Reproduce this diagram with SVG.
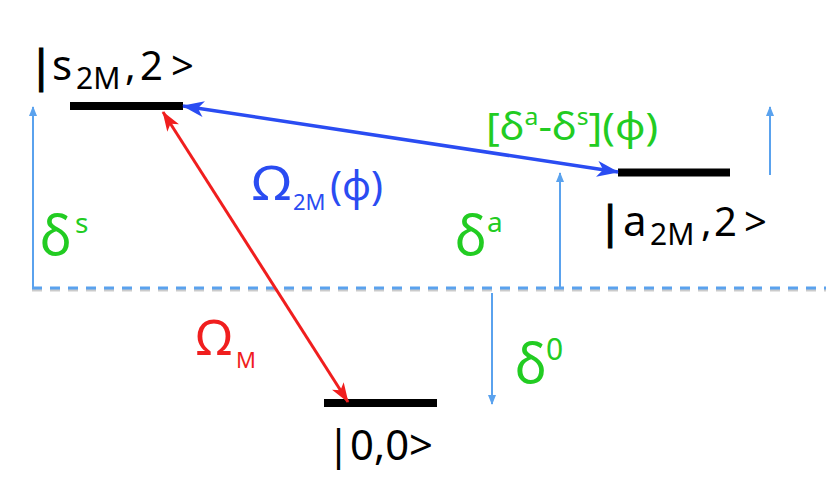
<svg xmlns="http://www.w3.org/2000/svg" width="830" height="502" viewBox="0 0 830 502">
<defs>
<style>
.lvl{stroke:#000;stroke-width:8;}
.txt{font-family:"Noto Sans","Open Sans",sans-serif;}
.blk{fill:#000;}
.bar{stroke:#000;stroke-width:1.2;}
.grn{fill:#22cc22;}
.blu{fill:#2a4cf2;}
.red{fill:#f01e1e;}
.lb{stroke:#5aa2ee;stroke-width:2;fill:none;}
</style>
<marker id="hb" viewBox="0 0 22 16" refX="21" refY="8" markerWidth="22" markerHeight="16" markerUnits="userSpaceOnUse" orient="auto-start-reverse">
<path d="M0,0 L22,8 L0,16 L6,8 z" fill="#2a4cf2"/>
</marker>
<marker id="hr" viewBox="0 0 20 14" refX="19" refY="7" markerWidth="20" markerHeight="14" markerUnits="userSpaceOnUse" orient="auto-start-reverse">
<path d="M0,0 L20,7 L0,14 L5,7 z" fill="#f01e1e"/>
</marker>
<marker id="hl" viewBox="0 0 10 8" refX="9" refY="4" markerWidth="10" markerHeight="8" markerUnits="userSpaceOnUse" orient="auto">
<path d="M0,0 L10,4 L0,8 z" fill="#5aa2ee"/>
</marker>
</defs>
<rect width="830" height="502" fill="#fff"/>

<g id="baseline">
<line x1="32" y1="290" x2="826" y2="290" stroke="#999" stroke-width="3" stroke-dasharray="10 8" opacity="0.5"/>
<line x1="32" y1="288" x2="826" y2="288" stroke="#5aa2ee" stroke-width="3" stroke-dasharray="10 8"/>
</g>

<g id="level-s">
<line class="lvl" x1="70" y1="106" x2="183" y2="106"/>
<text class="txt blk" y="80" font-size="42"><tspan class="bar" x="29" y="81" font-size="44">|</tspan><tspan x="52" y="80">s</tspan><tspan x="76" y="89" font-size="30">2M</tspan><tspan x="125" y="80" font-size="40">,</tspan><tspan x="140" y="80" font-size="40">2</tspan><tspan x="171" y="80" font-size="40">&gt;</tspan></text>
</g>

<g id="level-a">
<line class="lvl" x1="618" y1="172.5" x2="730" y2="172.5"/>
<text class="txt blk" y="236" font-size="42"><tspan class="bar" x="598" y="237" font-size="44">|</tspan><tspan x="623" y="236">a</tspan><tspan x="650" y="245" font-size="30">2M</tspan><tspan x="701" y="236" font-size="40">,</tspan><tspan x="714" y="236" font-size="40">2</tspan><tspan x="744" y="236" font-size="40">&gt;</tspan></text>
</g>

<g id="level-0">
<line class="lvl" x1="324" y1="403" x2="437" y2="403"/>
<text class="txt blk" x="327" y="460" font-size="42" textLength="106" lengthAdjust="spacingAndGlyphs">|0,0&gt;</text>
</g>

<g id="connectors">
<line x1="183" y1="106" x2="618" y2="172" stroke="#2a4cf2" stroke-width="3.5" marker-start="url(#hb)" marker-end="url(#hb)"/>
<line x1="163" y1="112" x2="348" y2="402" stroke="#f01e1e" stroke-width="3" marker-start="url(#hr)" marker-end="url(#hr)"/>
<line class="lb" x1="33" y1="288" x2="33" y2="107" marker-end="url(#hl)"/>
<line class="lb" x1="560" y1="287" x2="560" y2="173" marker-end="url(#hl)"/>
<line class="lb" x1="770" y1="175" x2="770" y2="107" marker-end="url(#hl)"/>
<line class="lb" x1="492" y1="293" x2="492" y2="404" marker-end="url(#hl)"/>
</g>

<g id="labels">
<text class="txt blu" font-size="48"><tspan x="252" y="200" textLength="39" lengthAdjust="spacingAndGlyphs">Ω</tspan><tspan x="293" y="210" font-size="22">2M</tspan><tspan x="330" y="200" font-size="40">(ϕ)</tspan></text>
<text class="txt red" font-size="50"><tspan x="196" y="355">Ω</tspan><tspan x="236" y="368" font-size="22">M</tspan></text>
<text class="txt grn" font-size="54"><tspan x="40" y="255">δ</tspan><tspan x="75" y="233" font-size="28">s</tspan></text>
<text class="txt grn" font-size="54"><tspan x="455" y="255">δ</tspan><tspan x="487" y="232" font-size="28">a</tspan></text>
<text class="txt grn" font-size="54"><tspan x="515" y="383">δ</tspan><tspan x="546" y="360" font-size="30">0</tspan></text>
<text class="txt grn" x="486" y="140" font-size="39" textLength="172" lengthAdjust="spacingAndGlyphs">[δ<tspan font-size="23" dy="-15">a</tspan><tspan dy="15">-δ</tspan><tspan font-size="23" dy="-15">s</tspan><tspan dy="15">](ϕ)</tspan></text>
</g>
</svg>
